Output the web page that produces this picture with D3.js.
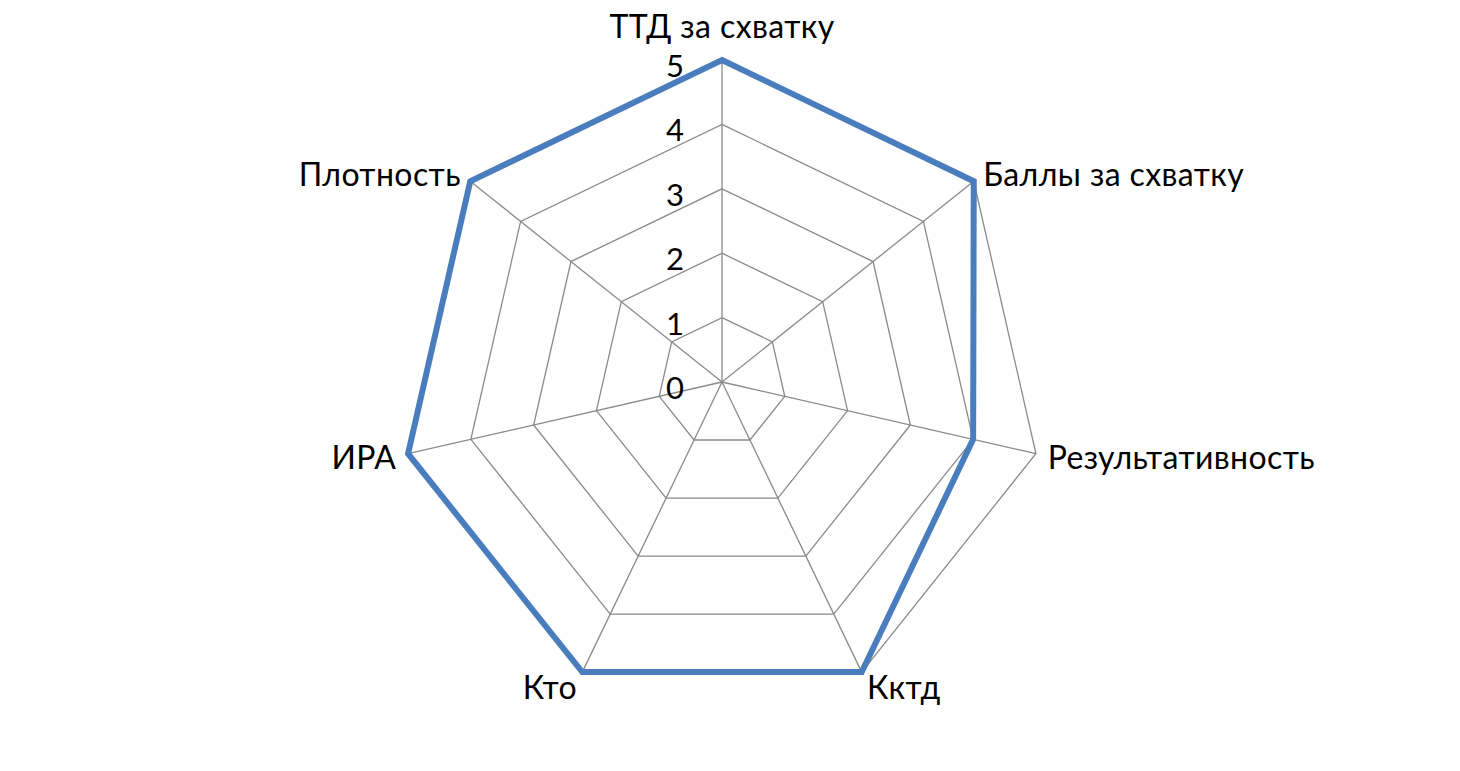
<!DOCTYPE html>
<html>
<head>
<meta charset="utf-8">
<script src="https://cdn.jsdelivr.net/npm/d3@7"></script>
<style>
  body { margin: 0; background: #fff; }
  text { font-family: Lato, "Open Sans", sans-serif; fill: #000; }
</style>
</head>
<body>
<div id="radar"></div>
<script>
(() => {

    // chart data
    var categories = ["ТТД за схватку", "Баллы за схватку", "Результативность", "Кктд", "Кто", "ИРА", "Плотность"];
    var values = [5, 5, 4, 5, 5, 5, 5];
    var tick_values = [0, 1, 2, 3, 4, 5];

    var width = 1460, height = 771,
        cx = 722, cy = 382, radius = 322;

    var svg = d3.select("#radar")
        .append("svg")
        .attr("width", width)
        .attr("height", height);

    var g = svg.append("g")
        .attr("transform", "translate(" + cx + "," + cy + ")");

    var r = d3.scaleLinear()
        .domain([0, 5])
        .range([0, radius]);

    var angle = d3.scalePoint()
        .domain(categories)
        .range([0, 2 * Math.PI * (categories.length - 1) / categories.length]);

    function px(cat, v) { return Math.sin(angle(cat)) * r(v); }
    function py(cat, v) { return -Math.cos(angle(cat)) * r(v); }

    // grid rings
    tick_values.slice(1).forEach(function (t) {
        g.append("polygon")
            .attr("points", categories.map(function (c) { return px(c, t) + "," + py(c, t); }).join(" "))
            .style("fill", "none")
            .style("stroke", "#8a8a8a")
            .attr("stroke-width", 1.3);
    });

    // spokes
    g.selectAll(".spoke")
        .data(categories)
        .enter()
        .append("line")
        .attr("class", "spoke")
        .attr("x1", 0).attr("y1", 0)
        .attr("x2", function (d) { return px(d, 5); })
        .attr("y2", function (d) { return py(d, 5); })
        .style("stroke", "#8a8a8a")
        .attr("stroke-width", 1.3);

    // series
    var line = d3.lineRadial()
        .angle(function (d, i) { return angle(categories[i]); })
        .radius(function (d) { return r(d); })
        .curve(d3.curveLinearClosed);

    g.append("path")
        .datum(values)
        .attr("d", line)
        .style("fill", "none")
        .style("stroke", "#4a7dbd")
        .attr("stroke-width", 6)
        .attr("stroke-linejoin", "miter");

    // tick labels
    g.selectAll(".tick")
        .data(tick_values)
        .enter()
        .append("text")
        .attr("class", "tick")
        .attr("x", -38)
        .attr("y", function (d) { return -r(d) + 5; })
        .attr("text-anchor", "end")
        .attr("dominant-baseline", "central")
        .style("font-size", "31px")
        .text(function (d) { return d; });

    // category labels
    g.selectAll(".cat")
        .data(categories)
        .enter()
        .append("text")
        .attr("class", "cat")
        .attr("x", function (d) { return Math.sin(angle(d)) * (radius + 12); })
        .attr("y", function (d) {
            var s = Math.sin(angle(d)), c = Math.cos(angle(d));
            var y = -c * (radius + 12);
            if (Math.abs(s) < 0.1) y -= 23;
            else if (c < -0.5) y += 4;
            return y;
        })
        .attr("text-anchor", function (d) {
            var s = Math.sin(angle(d));
            return s > 0.1 ? "start" : (s < -0.1 ? "end" : "middle");
        })
        .attr("dominant-baseline", "central")
        .style("font-size", "32px")
        .style("letter-spacing", "0.4px")
        .text(function (d) { return d; });

})();
</script>
</body>
</html>
